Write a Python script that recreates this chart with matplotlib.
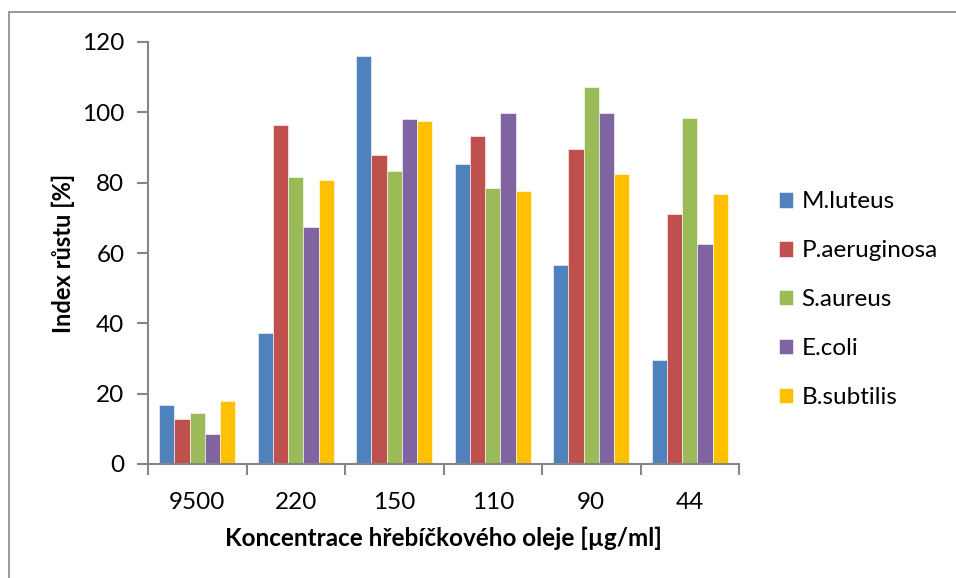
import numpy as np
import matplotlib.pyplot as plt
from matplotlib.patches import Rectangle

plt.rcParams['font.family'] = ['Lato', 'DejaVu Sans']

# data
koncentrace = ['9500', '220', '150', '110', '90', '44']
kmeny = ['M.luteus', 'P.aeruginosa', 'S.aureus', 'E.coli', 'B.subtilis']
barvy = ['#4F81BD', '#C0504D', '#9BBB59', '#8064A2', '#FFC000']

m_luteus = [16.8, 37.3, 115.9, 85.2, 56.7, 29.6]
p_aeruginosa = [12.8, 96.3, 88.0, 93.4, 89.5, 71.1]
s_aureus = [14.5, 81.6, 83.3, 78.4, 107.1, 98.5]
e_coli = [8.4, 67.4, 98.0, 99.9, 99.9, 62.5]
b_subtilis = [18.0, 80.7, 97.6, 77.5, 82.6, 76.7]
hodnoty = [m_luteus, p_aeruginosa, s_aureus, e_coli, b_subtilis]

fig = plt.figure(figsize=(9.56, 5.78), dpi=100)
ax = fig.add_axes([148 / 956, 114 / 578, 591 / 956, 422 / 578])

x = np.arange(len(koncentrace))
w = 0.154
for i, (vals, c, nazev) in enumerate(zip(hodnoty, barvy, kmeny)):
    ax.bar(x + (i - 2) * w, vals, w, color=c, label=nazev,
           edgecolor='white', linewidth=0.4)

ax.set_xlim(-0.5, len(koncentrace) - 0.5)
ax.set_ylim(0, 120)
ax.set_yticks(range(0, 121, 20))
ax.set_xticks(x)
ax.set_xticklabels(koncentrace)
ax.set_xticks(np.arange(-0.5, len(koncentrace)), minor=True)
ax.tick_params(axis='x', which='major', length=0, pad=20, labelsize=17.5)
ax.tick_params(axis='x', which='minor', length=8, width=1.5, color='#868686')
ax.tick_params(axis='y', length=8, width=1.5, color='#868686', pad=9, labelsize=17.5)

for s in ['top', 'right']:
    ax.spines[s].set_visible(False)
for s in ['left', 'bottom']:
    ax.spines[s].set_color('#868686')
    ax.spines[s].set_linewidth(1.5)

ax.set_ylabel('Index růstu [%]', fontsize=17, fontweight='bold', labelpad=5)
ax.set_xlabel('Koncentrace hřebíčkového oleje [µg/ml]', fontsize=17.5,
              fontweight='bold', labelpad=10)

ax.legend(loc='center left', bbox_to_anchor=(1.03, 0.389), frameon=False,
          fontsize=17.5, handlelength=0.6, handleheight=0.6,
          handletextpad=0.35, labelspacing=1.15)

fig.patches.append(Rectangle((9 / 956, -0.1), 1.2, 1.1 - 12 / 578,
                             transform=fig.transFigure, fill=False,
                             edgecolor='#868686', linewidth=1.2))

fig.savefig('out.png', dpi=100)
